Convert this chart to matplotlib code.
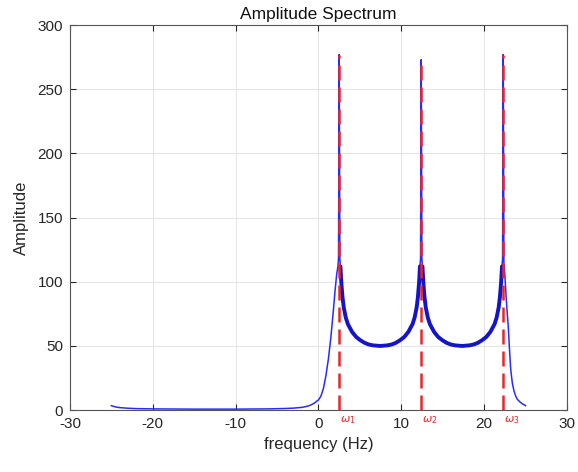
import numpy as np
import matplotlib
matplotlib.use("Agg")
import matplotlib.pyplot as plt

plt.rcParams['font.family'] = ['Liberation Sans', 'DejaVu Sans']
plt.rcParams['axes.unicode_minus'] = False

# spectrum (Hz, amplitude)
freq = [-25, -24.5, -24, -23, -22, -20, -15, -10, -6, -4, -3, -2, -1.5, -1, -0.5,
        0, 0.3, 0.6, 0.9, 1.2, 1.5, 1.8, 2.0, 2.2, 2.35, 2.42, 2.5,
        2.58, 2.65, 2.75, 2.9, 3.05, 3.3, 3.55, 4.05, 4.55, 5.05, 5.55, 6.05, 6.55, 7.45,
        8.35, 8.85, 9.35, 9.85, 10.35, 10.85, 11.35, 11.6, 11.85, 12.0, 12.15, 12.25, 12.32, 12.4,
        12.48, 12.55, 12.65, 12.8, 12.95, 13.2, 13.45, 13.95, 14.45, 14.95, 15.45, 15.95, 16.45, 17.35,
        18.25, 18.75, 19.25, 19.75, 20.25, 20.75, 21.25, 21.5, 21.75, 21.9, 22.05, 22.15, 22.22, 22.3,
        22.38, 22.5, 22.65, 22.8, 22.9, 23.05, 23.2, 23.4, 23.6, 23.8, 24.0, 24.3, 24.6, 25]
amp = [3.5, 2.5, 2.0, 1.5, 1.2, 1.0, 0.8, 0.8, 1.0, 1.3, 1.6, 2.2, 2.8, 3.8, 5.5,
       8, 11, 17, 27, 40, 57, 78, 93, 106, 112, 118, 277,
       118, 112, 100, 88, 80, 72, 67, 61, 57, 54.5, 52.5, 51.2, 50.5, 50,
       50.5, 51.2, 52.5, 54.5, 57, 61, 67, 72, 80, 88, 100, 112, 118, 273,
       118, 112, 100, 88, 80, 72, 67, 61, 57, 54.5, 52.5, 51.2, 50.5, 50,
       50.5, 51.2, 52.5, 54.5, 57, 61, 67, 72, 80, 88, 100, 112, 118, 277,
       115, 105, 88, 74, 66, 48, 32, 21, 15, 11, 8.5, 6.5, 5, 3.5]

peak_freqs = [2.5, 12.4, 22.3]
peak_amps = [277, 273, 277]
peak_labels = [r'$\omega_1$', r'$\omega_2$', r'$\omega_3$']

freq = np.array(freq)
amp = np.array(amp)

fig = plt.figure(figsize=(5.78, 4.72), dpi=100)
ax = fig.add_axes([0.121, 0.131, 0.860, 0.816])

ax.plot(freq, amp, color='#2a2aff', lw=1.1, zorder=3)
# the region between the peaks is a thick band in the original
u = (freq > 2.55) & (freq < 22.25) & (amp < 115)
ax.plot(freq[u], amp[u], color='#1414c8', lw=2.8, zorder=3, solid_capstyle='round')

for f, a, lab in zip(peak_freqs, peak_amps, peak_labels):
    ax.plot([f, f], [0, a], color='#e8262a', ls=(0, (6, 2.8)), lw=1.8, zorder=4)
    ax.text(f + 0.15, -3, lab, color='#e8262a', fontsize=8, ha='left', va='top')

ax.set_xlim(-30, 30)
ax.set_ylim(0, 300)
ax.set_xticks(range(-30, 31, 10))
ax.set_yticks(range(0, 301, 50))
ax.grid(True, color='#e4e4e4', lw=0.7)
ax.set_axisbelow(True)
ax.tick_params(direction='in', top=True, right=True, length=4, colors='#262626',
               labelsize=11, pad=5)
for s in ax.spines.values():
    s.set_color('#555555')
    s.set_linewidth(0.8)

ax.set_xlabel('frequency (Hz)', fontsize=12, color='#262626', labelpad=4)
ax.set_ylabel('Amplitude', fontsize=12, color='#262626', labelpad=6)
ax.set_title('Amplitude Spectrum', fontsize=12.5, color='#111111', pad=4)

fig.savefig('out.png', dpi=100)
